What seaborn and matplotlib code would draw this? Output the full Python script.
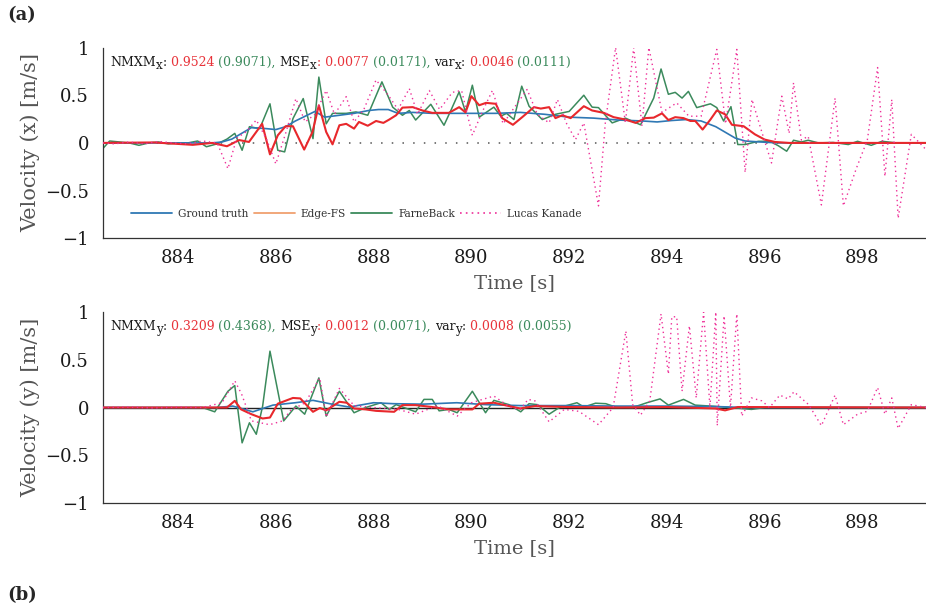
import matplotlib
matplotlib.use("Agg")
import numpy as np
import pandas as pd
import seaborn as sns
import matplotlib.pyplot as plt
import matplotlib.transforms as mtransforms
from matplotlib.lines import Line2D

# ---------------- data ----------------
# top panel: velocity x
gt_x_t = [882.46, 884.7, 884.9, 885.1, 885.3, 885.5, 885.8, 886.0, 886.2, 886.4, 886.6, 886.8,
          887.0, 887.3, 887.6, 887.9, 888.1, 888.3, 888.5, 888.8, 889.2, 889.6, 890.0, 890.5,
          891.0, 891.5, 892.0, 892.5, 893.0, 893.5, 893.8, 894.1, 894.4, 894.7, 895.0, 895.2,
          895.4, 895.6, 895.9, 896.3, 899.3]
gt_x_v = [0, 0, 0.01, 0.04, 0.1, 0.16, 0.15, 0.14, 0.17, 0.23, 0.28, 0.33,
          0.27, 0.29, 0.31, 0.34, 0.35, 0.35, 0.31, 0.32, 0.31, 0.31, 0.31, 0.31,
          0.32, 0.30, 0.27, 0.26, 0.24, 0.23, 0.22, 0.235, 0.245, 0.23, 0.17, 0.11,
          0.05, 0.02, 0.01, 0, 0]

edge_x_t = [882.46, 883.5, 884.3, 884.7, 885.0, 885.25, 885.45, 885.72, 885.88, 886.04, 886.2, 886.35,
            886.58, 886.75, 886.88, 887.03, 887.16, 887.3, 887.44, 887.6, 887.7, 887.88, 888.05,
            888.2, 888.32, 888.46, 888.59, 888.8, 889.0, 889.2, 889.54, 889.75, 889.88, 890.0,
            890.16, 890.3, 890.5, 890.63, 890.85, 891.04, 891.28, 891.42, 891.59, 891.72, 891.86,
            892.03, 892.3, 892.47, 892.71, 892.91, 893.15, 893.36, 893.56, 893.73, 893.9, 894.03,
            894.17, 894.34, 894.48, 894.58, 894.73, 894.89, 895.02, 895.19, 895.33, 895.57, 895.8,
            896.0, 896.21, 896.5, 899.3]
edge_x_v = [0, 0.005, -0.02, 0, -0.035, 0.03, 0.01, 0.2, -0.12, 0.08, 0.175, 0.175,
            -0.07, 0.115, 0.395, 0.115, -0.015, 0.185, 0.2, 0.15, 0.22, 0.18, 0.23,
            0.21, 0.245, 0.29, 0.37, 0.375, 0.34, 0.315, 0.315, 0.375, 0.32, 0.49,
            0.395, 0.42, 0.41, 0.26, 0.19, 0.27, 0.375, 0.36, 0.375, 0.26, 0.29,
            0.26, 0.385, 0.34, 0.315, 0.27, 0.245, 0.21, 0.26, 0.265, 0.31, 0.24,
            0.27, 0.26, 0.23, 0.23, 0.14, 0.245, 0.34, 0.3, 0.19, 0.175, 0.09,
            0.035, 0.01, 0, 0]

farn_x_t = [882.46, 882.6, 882.8, 883.0, 883.2, 883.4, 883.6, 883.8, 884.0, 884.2, 884.4, 884.58,
            884.8, 885.0, 885.16, 885.31, 885.46, 885.67, 885.88, 886.04, 886.18, 886.35, 886.56,
            886.76, 886.88, 887.03, 887.16, 887.44, 887.64, 887.88, 888.17, 888.39, 888.59, 888.73,
            888.86, 889.17, 889.44, 889.58, 889.75, 889.88, 890.02, 890.16, 890.46, 890.6, 890.72,
            890.87, 891.03, 891.18, 891.45, 891.72, 892.0, 892.3, 892.47, 892.6, 892.88, 893.15,
            893.46, 893.73, 893.88, 894.03, 894.17, 894.31, 894.44, 894.61, 894.89, 895.02, 895.16,
            895.31, 895.45, 895.6, 895.87, 896.11, 896.28, 896.45, 896.59, 896.75, 896.89, 897.1,
            897.4, 897.71, 897.9, 898.18, 898.4, 898.7, 899.3]
farn_x_v = [-0.06, 0.02, 0.01, 0.0, -0.025, 0.0, 0.01, -0.01, 0.0, 0.0, 0.02, -0.04,
            -0.01, 0.04, 0.1, -0.077, 0.17, 0.15, 0.41, -0.077, -0.094, 0.255, 0.465,
            0.045, 0.69, 0.2, 0.31, 0.31, 0.325, 0.29, 0.64, 0.375, 0.29, 0.34,
            0.24, 0.405, 0.185, 0.34, 0.535, 0.325, 0.605, 0.27, 0.375, 0.28, 0.31,
            0.245, 0.595, 0.385, 0.245, 0.3, 0.33, 0.5, 0.375, 0.37, 0.21, 0.26,
            0.19, 0.47, 0.775, 0.51, 0.53, 0.47, 0.54, 0.37, 0.41, 0.37, 0.23,
            0.38, -0.017, -0.017, 0.017, 0.017, -0.03, -0.087, 0.028, 0.01, 0.028, 0.0,
            0.005, -0.017, 0.017, -0.025, 0.017, 0.0, 0.0]

lk_x_t = [882.46, 882.7, 883.0, 883.3, 883.6, 883.9, 884.2, 884.5, 884.8, 885.02, 885.2, 885.4,
          885.6, 885.8, 886.0, 886.2, 886.41, 886.6, 886.8, 887.03, 887.2, 887.44, 887.6, 887.8,
          888.05, 888.3, 888.5, 888.73, 888.9, 889.14, 889.35, 889.61, 889.8, 890.02, 890.2,
          890.43, 890.65, 890.85, 891.14, 891.35, 891.59, 891.76, 891.95, 892.13, 892.3, 892.6,
          892.74, 892.95, 893.15, 893.32, 893.49, 893.63, 893.9, 894.2, 894.45, 894.7, 895.02,
          895.2, 895.43, 895.6, 895.74, 895.95, 896.14, 896.35, 896.5, 896.59, 896.75, 896.89,
          897.16, 897.44, 897.61, 897.88, 898.1, 898.31, 898.46, 898.6, 898.73, 899.0, 899.3]
lk_x_v = [0.0, -0.01, 0.01, -0.01, 0.015, 0.0, -0.01, 0.02, 0.0, -0.27, 0.05, 0.12,
          0.24, 0.05, -0.22, 0.1, 0.465, 0.22, 0.3, 0.55, 0.3, 0.485, 0.22, 0.35,
          0.66, 0.5, 0.35, 0.57, 0.3, 0.55, 0.35, 0.53, 0.55, 0.08, 0.3,
          0.55, 0.2, 0.35, 0.56, 0.3, 0.21, 0.455, 0.2, 0.035, 0.21, -0.66,
          0.21, 1.0, 0.21, 1.0, 0.175, 1.0, 0.32, 0.42, 0.28, 0.28, 0.98,
          0.2, 0.98, -0.31, 0.455, 0.1, -0.21, 0.49, 0.1, 0.63, 0.03, 0.07,
          -0.65, 0.47, -0.66, -0.26, 0.03, 0.79, -0.35, 0.455, -0.79, 0.09, -0.07]

# bottom panel: velocity y
gt_y_t = [882.46, 884.8, 885.12, 885.53, 885.94, 886.4, 886.76, 887.1, 887.5, 888.0, 888.4,
          889.0, 889.7, 890.3, 891.0, 892.0, 893.0, 894.0, 895.0, 895.6, 899.3]
gt_y_v = [0, 0, 0.015, -0.045, 0.025, 0.05, 0.075, 0.04, 0.005, 0.05, 0.04,
          0.035, 0.05, 0.03, 0.02, 0.02, 0.015, 0.015, 0.01, 0.0, 0]

edge_y_t = [882.46, 885.0, 885.16, 885.29, 885.5, 885.73, 885.88, 886.04, 886.35, 886.5, 886.76,
            886.9, 887.03, 887.3, 887.45, 887.6, 887.84, 888.05, 888.42, 888.59, 888.86, 889.2,
            889.54, 890.02, 890.16, 890.46, 890.77, 891.0, 891.3, 892.0, 893.0, 894.0, 894.99,
            895.19, 895.45, 899.3]
edge_y_v = [0, 0, 0.07, -0.02, -0.07, -0.115, -0.105, 0.04, 0.1, 0.095, -0.045,
            -0.005, -0.03, 0.06, 0.05, -0.01, -0.02, -0.035, -0.045, 0.025, 0.025, 0.005,
            -0.02, -0.02, 0.04, 0.05, 0.015, -0.01, 0.015, 0.005, 0.0, 0.005, -0.01,
            -0.03, 0.005, 0]

farn_y_t = [882.46, 884.5, 884.75, 885.02, 885.16, 885.31, 885.46, 885.6, 885.73, 885.88, 886.16,
            886.41, 886.59, 886.88, 887.03, 887.3, 887.6, 887.84, 888.15, 888.32, 888.46, 888.86,
            889.03, 889.2, 889.34, 889.54, 889.71, 890.02, 890.29, 890.46, 890.77, 891.01, 891.18,
            891.35, 891.59, 891.8, 892.16, 892.3, 892.54, 892.75, 892.95, 893.3, 893.59, 893.86,
            894.03, 894.34, 894.58, 894.9, 895.3, 895.73, 896.0, 899.3]
farn_y_v = [0, 0, -0.045, 0.17, 0.23, -0.37, -0.16, -0.28, 0.015, 0.59, -0.14,
            0.015, -0.07, 0.31, -0.09, 0.17, -0.055, 0.0, 0.05, -0.02, 0.03, -0.045,
            0.085, 0.085, -0.035, -0.02, -0.055, 0.17, -0.055, 0.075, 0.03, -0.045, 0.04,
            0.03, -0.07, 0.0, 0.05, 0.005, 0.045, 0.04, 0.005, 0.0, 0.05, 0.09,
            0.025, 0.085, 0.025, 0.015, 0.0, -0.02, 0.0, 0]

lk_y_t = [882.46, 883.0, 883.5, 884.0, 884.5, 884.9, 885.16, 885.3, 885.5, 885.87, 886.14,
          886.3, 886.6, 886.9, 887.03, 887.3, 887.6, 888.0, 888.5, 888.86, 889.3, 889.71,
          890.0, 890.46, 890.8, 891.0, 891.16, 891.3, 891.59, 891.9, 892.2, 892.6, 892.9,
          893.16, 893.3, 893.46, 893.65, 893.88, 894.03, 894.1, 894.2, 894.31, 894.46, 894.6,
          894.75, 894.88, 895.0, 895.03, 895.17, 895.3, 895.43, 895.53, 895.73, 895.94, 896.1,
          896.31, 896.48, 896.6, 896.9, 897.16, 897.44, 897.61, 897.9, 898.1, 898.31, 898.46,
          898.6, 898.73, 899.0, 899.3]
lk_y_v = [0, 0.005, -0.005, 0.005, 0.0, 0.05, 0.28, 0.14, -0.14, -0.18, -0.14,
          -0.03, 0.05, 0.31, -0.1, 0.2, 0.02, 0.0, -0.02, -0.07, 0.02, -0.09,
          0.05, 0.12, 0.0, -0.02, 0.085, 0.07, -0.15, -0.02, -0.04, -0.18, 0.0,
          0.8, 0.03, -0.08, 0.07, 0.98, 0.35, 0.95, 0.95, 0.17, 0.855, 0.1,
          1.0, 0.0, 1.0, -0.19, 0.96, 0.0, 0.98, -0.09, 0.1, 0.07, 0.0,
          0.13, 0.09, 0.165, 0.03, -0.19, 0.13, -0.18, -0.07, -0.04, 0.21, -0.07,
          0.1, -0.22, 0.03, 0.0]

series_names = ["Ground truth", "Edge-FS", "FarneBack", "Lucas Kanade"]
x_ticks = [884, 886, 888, 890, 892, 894, 896, 898]
y_ticks = [-1, -0.5, 0, 0.5, 1]
y_tick_labels = ["\u22121", "\u22120.5", "0", "0.5", "1"]

metrics_x = ["0.9524", "0.9071", "0.0077", "0.0171", "0.0046", "0.0111"]
metrics_y = ["0.3209", "0.4368", "0.0012", "0.0071", "0.0008", "0.0055"]

# ---------------- style ----------------
C_GT = "#2f78b4"
C_EDGE = "#e8282c"
C_EDGE_LEG = "#f0a070"
C_FARN = "#3b8a5c"
C_LK = "#ee2f98"
C_TXT_RED = "#e8333a"
C_TXT_GRN = "#3b8a5c"

sns.set_theme(style="white")
plt.rcParams["font.family"] = ["DejaVu Serif"]
plt.rcParams["mathtext.fontset"] = "dejavuserif"

fig = plt.figure(figsize=(9.26, 6.07), dpi=100)
ax1 = fig.add_axes([0.111, 0.6074, 0.889, 0.3143])
ax2 = fig.add_axes([0.111, 0.1713, 0.889, 0.3147])

XMIN, XMAX = 882.46, 899.3


def draw(ax, t, v, color, lw, ls="-", z=2):
    df = pd.DataFrame({"t": t, "v": v})
    sns.lineplot(data=df, x="t", y="v", ax=ax, color=color, linewidth=lw,
                 linestyle=ls, estimator=None, sort=False, legend=False, zorder=z)


# zero reference lines
ax1.axhline(0, color="#555555", lw=1.1, ls=(0, (1, 6)), zorder=1)
ax2.axhline(0, color="#222222", lw=1.0, zorder=1)

dots = (0, (1, 2.5))
draw(ax1, farn_x_t, farn_x_v, C_FARN, 1.1, z=2)
draw(ax1, gt_x_t, gt_x_v, C_GT, 1.2, z=3)
draw(ax1, edge_x_t, edge_x_v, C_EDGE, 1.5, z=4)
draw(ax1, lk_x_t, lk_x_v, C_LK, 1.0, ls=dots, z=5)

draw(ax2, farn_y_t, farn_y_v, C_FARN, 1.1, z=2)
draw(ax2, gt_y_t, gt_y_v, C_GT, 1.2, z=3)
draw(ax2, edge_y_t, edge_y_v, C_EDGE, 1.5, z=4)
draw(ax2, lk_y_t, lk_y_v, C_LK, 1.0, ls=dots, z=5)

for ax, ylab in [(ax1, "Velocity (x) [m/s]"), (ax2, "Velocity (y) [m/s]")]:
    ax.set_xlim(XMIN, XMAX)
    ax.set_ylim(-1, 1)
    ax.set_facecolor("white")
    for s in ["top", "right"]:
        ax.spines[s].set_visible(False)
    for s in ["left", "bottom"]:
        ax.spines[s].set_color("#333333")
        ax.spines[s].set_linewidth(0.9)
    ax.set_xticks(x_ticks)
    ax.set_xticklabels([str(x) for x in x_ticks])
    ax.set_yticks(y_ticks)
    ax.set_yticklabels(y_tick_labels)
    ax.tick_params(axis="both", direction="in", length=5, width=0.9, color="#999999",
                   labelsize=13, labelcolor="#1a1a1a")
    ax.tick_params(axis="x", pad=8)
    ax.tick_params(axis="y", pad=10)
    ax.set_xlabel("Time [s]", fontsize=14, color="#555555")
    ax.set_ylabel(ylab, fontsize=15, color="#555555")
    ax.xaxis.set_label_coords(0.5, -0.234)
    ax.xaxis.label.set_verticalalignment("center")
    ax.yaxis.set_label_coords(-0.088, 0.5)
    ax.yaxis.label.set_verticalalignment("center")
    ax.grid(False)

# legend (top panel)
handles = [
    Line2D([0], [0], color=C_GT, lw=1.3),
    Line2D([0], [0], color=C_EDGE_LEG, lw=1.3),
    Line2D([0], [0], color=C_FARN, lw=1.3),
    Line2D([0], [0], color=C_LK, lw=1.2, ls=dots),
]
leg = ax1.legend(handles, series_names, loc="center", bbox_to_anchor=(0.308, 0.127),
                 ncol=4, frameon=False, fontsize=7.6, handlelength=3.9,
                 handletextpad=0.55, columnspacing=0.5, labelcolor="#333333")

# panel letters
fig.text(0.008, 0.975, "(a)", fontsize=13, fontweight="bold", va="center", ha="left")
fig.text(0.008, 0.020, "(b)", fontsize=13, fontweight="bold", va="center", ha="left")

# mixed-colour metric strings
fig.canvas.draw()
renderer = fig.canvas.get_renderer()


def colored_line(ax, x0, y0, parts, fs):
    axw = ax.get_window_extent(renderer).width
    x = x0
    for s, c, dy, scale in parts:
        tr = mtransforms.offset_copy(ax.transAxes, fig=fig, x=0, y=dy, units="points")
        t = ax.text(x, y0, s, transform=tr, color=c, fontsize=fs * scale,
                    ha="left", va="baseline", zorder=10)
        w = t.get_window_extent(renderer).width
        x += w / axw


def metric_parts(sub, m):
    k = "#1a1a1a"
    sd, ss = -2.2, 0.95
    return [("NMXM", k, 0, 1), (sub, k, sd, ss), (": ", k, 0, 1),
            (m[0] + " ", C_TXT_RED, 0, 1), ("(" + m[1] + "), ", C_TXT_GRN, 0, 1),
            ("MSE", k, 0, 1), (sub, k, sd, ss), (": " + m[2] + " ", C_TXT_RED, 0, 1),
            ("(" + m[3] + "), ", C_TXT_GRN, 0, 1),
            ("var", k, 0, 1), (sub, k, sd, ss), (": ", k, 0, 1),
            (m[4] + " ", C_TXT_RED, 0, 1), ("(" + m[5] + ")", C_TXT_GRN, 0, 1)]


colored_line(ax1, 0.009, 0.905, metric_parts("x", metrics_x), 9.0)
colored_line(ax2, 0.009, 0.905, metric_parts("y", metrics_y), 9.0)

fig.savefig("out.png", dpi=100)
